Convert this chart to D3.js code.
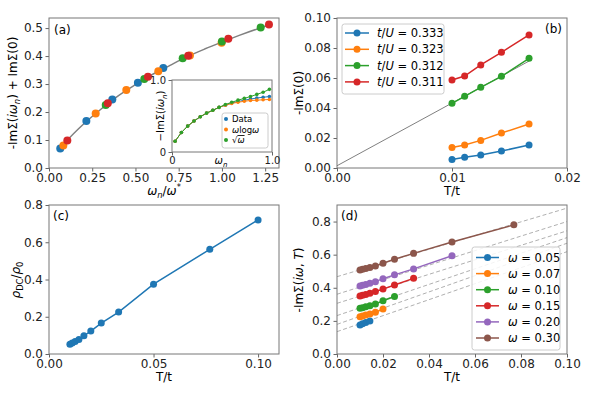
<!DOCTYPE html>
<html>
<head>
<meta charset="utf-8">
<script src="https://cdn.jsdelivr.net/npm/d3@7"></script>
<style>
  body { margin: 0; background: #fff; }
  svg { display: block; font-family: "DejaVu Sans", sans-serif; }
</style>
</head>
<body>
<svg id="fig" width="598" height="393"></svg>
<script>
// ---- data ----
const C = ['#1f77b4', '#ff7f0e', '#2ca02c', '#d62728', '#9467bd', '#8c564b'];

// (a) collapsed self energy
const aBlueX = [0.065, 0.216, 0.366, 0.514, 0.661];
const aBlueY = [0.070, 0.168, 0.245, 0.305, 0.357];
const aOrangeX = [0.083, 0.270, 0.447, 0.632, 0.815, 0.998];
const aOrangeY = [0.080, 0.195, 0.279, 0.346, 0.402, 0.448];
const aGreenX = [0.328, 0.551, 0.773, 1.000, 1.224];
const aGreenY = [0.225, 0.318, 0.392, 0.452, 0.502];
const aRedX = [0.106, 0.340, 0.572, 0.805, 1.037, 1.272];
const aRedY = [0.098, 0.231, 0.326, 0.401, 0.462, 0.513];
const aFitX = [0.06, 0.1, 0.2, 0.3, 0.4, 0.5, 0.6, 0.7, 0.8, 0.9, 1.0, 1.1, 1.2, 1.28];
const aFitY = [0.066, 0.095, 0.157, 0.210, 0.258, 0.298, 0.335, 0.367, 0.398, 0.425, 0.450, 0.474, 0.496, 0.512];
const aXTicks = [0, 0.25, 0.5, 0.75, 1.0, 1.25];
const aXLabels = ['0.00', '0.25', '0.50', '0.75', '1.00', '1.25'];
const aYTicks = [0, 0.1, 0.2, 0.3, 0.4, 0.5];
const aYLabels = ['0.0', '0.1', '0.2', '0.3', '0.4', '0.5'];

// inset of (a)
const inOmega = [0.031, 0.094, 0.157, 0.220, 0.283, 0.346, 0.408, 0.471, 0.534, 0.597, 0.660, 0.723, 0.785, 0.848, 0.911, 0.974];
const inData = [0.15, 0.27, 0.36, 0.43, 0.49, 0.54, 0.58, 0.62, 0.65, 0.68, 0.70, 0.72, 0.735, 0.75, 0.76, 0.77];
const inLog = [0.15, 0.27, 0.36, 0.43, 0.49, 0.54, 0.58, 0.62, 0.65, 0.675, 0.69, 0.705, 0.715, 0.72, 0.725, 0.73];
const inSqrt = [0.15, 0.27, 0.36, 0.43, 0.49, 0.54, 0.58, 0.62, 0.66, 0.69, 0.72, 0.745, 0.77, 0.80, 0.83, 0.87];

// (b) ImSigma(0) vs T
const bT = [0.01, 0.0111, 0.0125, 0.0143, 0.0167];
const b333 = [0.0056, 0.0071, 0.0087, 0.0113, 0.0153];
const b323 = [0.0136, 0.0153, 0.0184, 0.0233, 0.0293];
const b312 = [0.0431, 0.0478, 0.0538, 0.0611, 0.0731];
const b311 = [0.0587, 0.0613, 0.0687, 0.0771, 0.0887];
const bLabels = ['0.333', '0.323', '0.312', '0.311'];
const bFitX = [0, 0.0167];
const bFitY = [0.0015, 0.0713];
const bXTicks = [0, 0.01, 0.02];
const bXLabels = ['0.00', '0.01', '0.02'];
const bYTicks = [0, 0.02, 0.04, 0.06, 0.08, 0.10];
const bYLabels = ['0.00', '0.02', '0.04', '0.06', '0.08', '0.10'];

// (c) resistivity
const cT = [0.01, 0.0111, 0.0125, 0.0143, 0.0167, 0.02, 0.025, 0.0333, 0.05, 0.0769, 0.1];
const cRho = [0.052, 0.059, 0.067, 0.078, 0.098, 0.123, 0.166, 0.225, 0.375, 0.562, 0.720];
const cXTicks = [0, 0.05, 0.10];
const cXLabels = ['0.00', '0.05', '0.10'];
const cYTicks = [0, 0.2, 0.4, 0.6, 0.8];
const cYLabels = ['0.0', '0.2', '0.4', '0.6', '0.8'];

// (d) ImSigma(i omega, T)
const dT = [0.01, 0.0111, 0.0125, 0.0143, 0.0167, 0.02, 0.025, 0.0333, 0.05, 0.0769];
const dOmegaLabels = ['0.05', '0.07', '0.10', '0.15', '0.20', '0.30'];
const dW005 = [0.175, 0.183, 0.190, 0.200];
const dW007 = [0.225, 0.230, 0.235, 0.242, 0.252, 0.272];
const dW010 = [0.276, 0.280, 0.285, 0.292, 0.302, 0.322, 0.347];
const dW015 = [0.350, 0.355, 0.360, 0.367, 0.377, 0.392, 0.417, 0.457];
const dW020 = [0.410, 0.415, 0.420, 0.428, 0.437, 0.455, 0.478, 0.514, 0.593];
const dW030 = [0.508, 0.512, 0.517, 0.523, 0.532, 0.548, 0.572, 0.608, 0.676, 0.780];
const dFitAt0 = [0.135, 0.179, 0.232, 0.306, 0.361, 0.467];
const dFitAt01 = [0.618, 0.669, 0.703, 0.744, 0.800, 0.881];
const dXTicks = [0, 0.02, 0.04, 0.06, 0.08, 0.10];
const dXLabels = ['0.00', '0.02', '0.04', '0.06', '0.08', '0.10'];
const dYTicks = [0, 0.2, 0.4, 0.6, 0.8];
const dYLabels = ['0.0', '0.2', '0.4', '0.6', '0.8'];

// ---- drawing helpers ----
const svg = d3.select('#fig');
const FS = 12;

// segments: {t, i: italic, sub, sup}
function rich(parent, x, y, segs, size, anchor, rotate) {
    const t = parent.append('text')
        .attr('font-size', size)
        .attr('text-anchor', anchor || 'start')
        .attr('fill', '#000');
    if (rotate) {
        t.attr('transform', `translate(${x},${y}) rotate(-90)`);
    } else {
        t.attr('x', x).attr('y', y);
    }
    let shift = 0;
    segs.forEach(s => {
        const sp = t.append('tspan').text(s.t);
        if (s.i) sp.attr('font-style', 'italic');
        let target = 0;
        if (s.sub) { target = size * 0.25; sp.attr('font-size', size * 0.7); }
        if (s.sup) { target = -size * 0.4; sp.attr('font-size', size * 0.7); }
        if (target !== shift) { sp.attr('dy', target - shift); shift = target; }
        if (s.over) sp.style('text-decoration', 'overline');
    });
    return t;
}

function panel(box, xd, yd, xt, xl, yt, yl, tickSize) {
    const g = svg.append('g');
    const x = d3.scaleLinear().domain(xd).range([box.x0, box.x1]);
    const y = d3.scaleLinear().domain(yd).range([box.y1, box.y0]);
    g.append('rect').attr('x', box.x0).attr('y', box.y0)
        .attr('width', box.x1 - box.x0).attr('height', box.y1 - box.y0)
        .attr('fill', '#fff');
    const id = 'clip' + Math.round(box.x0) + '_' + Math.round(box.y0);
    svg.append('clipPath').attr('id', id).append('rect')
        .attr('x', box.x0).attr('y', box.y0)
        .attr('width', box.x1 - box.x0).attr('height', box.y1 - box.y0);
    const plot = g.append('g');
    const fs = tickSize || FS;
    const ax = g.append('g').attr('transform', `translate(0,${box.y1})`)
        .call(d3.axisBottom(x).tickValues(xt).tickFormat((d, i) => xl[i]).tickSize(3.5).tickPadding(1.5));
    const ay = g.append('g').attr('transform', `translate(${box.x0},0)`)
        .call(d3.axisLeft(y).tickValues(yt).tickFormat((d, i) => yl[i]).tickSize(3.5).tickPadding(2.5));
    [ax, ay].forEach(a => {
        a.select('.domain').remove();
        a.selectAll('text').attr('font-size', fs).attr('font-family', 'DejaVu Sans').attr('fill', '#222');
        a.selectAll('line').attr('stroke', '#666');
    });
    g.append('rect').attr('x', box.x0).attr('y', box.y0)
        .attr('width', box.x1 - box.x0).attr('height', box.y1 - box.y0)
        .attr('fill', 'none').attr('stroke', '#777').attr('stroke-width', 1);
    return { g, plot, x, y, clip: `url(#${id})` };
}

function series(p, xs, ys, color, r, lw, withLine) {
    const pts = xs.map((v, i) => [v, ys[i]]);
    if (withLine !== false) {
        p.plot.append('path').datum(pts)
            .attr('d', d3.line().x(d => p.x(d[0])).y(d => p.y(d[1])))
            .attr('fill', 'none').attr('stroke', color).attr('stroke-width', lw || 1.5);
    }
    p.plot.selectAll(null).data(pts).enter().append('circle')
        .attr('cx', d => p.x(d[0])).attr('cy', d => p.y(d[1]))
        .attr('r', r).attr('fill', color);
}

function legendBox(g, x, y, w, h) {
    g.append('rect').attr('x', x).attr('y', y).attr('width', w).attr('height', h)
        .attr('rx', 2.5).attr('fill', '#fff').attr('fill-opacity', 0.85)
        .attr('stroke', '#ccc').attr('stroke-width', 1);
}

// ---- panel (a) ----
const pa = panel({ x0: 49, x1: 279, y0: 18, y1: 168 }, [0, 1.33], [0, 0.536], aXTicks, aXLabels, aYTicks, aYLabels);
pa.plot.append('path').datum(aFitX.map((v, i) => [v, aFitY[i]]))
    .attr('d', d3.line().curve(d3.curveMonotoneX).x(d => pa.x(d[0])).y(d => pa.y(d[1])))
    .attr('fill', 'none').attr('stroke', '#808080').attr('stroke-width', 1.5);
series(pa, aBlueX, aBlueY, C[0], 4, 0, false);
series(pa, aOrangeX, aOrangeY, C[1], 4, 0, false);
series(pa, aGreenX, aGreenY, C[2], 4, 0, false);
series(pa, aRedX, aRedY, C[3], 4, 0, false);
rich(pa.g, 54, 34, [{ t: '(a)' }], FS);
rich(svg, 17, 93, [{ t: '-ImΣ(' }, { t: 'iω', i: true }, { t: 'n', i: true, sub: true }, { t: ') + ImΣ(0)' }], FS, 'middle', true);
rich(svg, 164, 195, [{ t: 'ω', i: true }, { t: 'n', i: true, sub: true }, { t: '/' }, { t: 'ω', i: true }, { t: '*', sup: true }], FS, 'middle');

// inset
const pin = panel({ x0: 172, x1: 272, y0: 80, y1: 152 }, [0, 1.0], [0, 1.0], [0, 1.0], ['0', '1.0'], [0, 1.0], ['0', '1.0'], 10);
series(pin, inOmega, inData, C[0], 1.8, 1);
series(pin, inOmega, inLog, C[1], 1.8, 1);
series(pin, inOmega, inSqrt, C[2], 1.8, 1);
rich(svg, 221, 164, [{ t: 'ω', i: true }, { t: 'n', i: true, sub: true }], 10, 'middle');
rich(svg, 164, 116, [{ t: '−ImΣ(' }, { t: 'iω', i: true }, { t: 'n', i: true, sub: true }, { t: ')' }], 10, 'middle', true);
legendBox(pin.g, 222, 113, 46, 35);
const inNames = [[{ t: 'Data' }], [{ t: 'ω', i: true }, { t: 'log' }, { t: 'ω', i: true }], [{ t: '√' }, { t: 'ω', i: true, over: true }]];
inNames.forEach((segs, i) => {
    const yy = 119 + i * 10.5;
    pin.g.append('circle').attr('cx', 226).attr('cy', yy).attr('r', 2).attr('fill', C[i]);
    rich(pin.g, 232, yy + 3, segs, 8.5);
});

// ---- panel (b) ----
const pb = panel({ x0: 337, x1: 567, y0: 18, y1: 168 }, [0, 0.02], [0, 0.10], bXTicks, bXLabels, bYTicks, bYLabels);
pb.plot.append('path').datum(bFitX.map((v, i) => [v, bFitY[i]]))
    .attr('d', d3.line().x(d => pb.x(d[0])).y(d => pb.y(d[1])))
    .attr('fill', 'none').attr('stroke', '#808080').attr('stroke-width', 1);
[b333, b323, b312, b311].forEach((ys, i) => series(pb, bT, ys, C[i], 3.5, 1.5));
rich(pb.g, 562, 33, [{ t: '(b)' }], FS, 'end');
legendBox(pb.g, 342, 24, 102, 70);
bLabels.forEach((lab, i) => {
    const yy = 33 + i * 16.3;
    pb.g.append('line').attr('x1', 345).attr('x2', 369).attr('y1', yy).attr('y2', yy)
        .attr('stroke', C[i]).attr('stroke-width', 1.5);
    pb.g.append('circle').attr('cx', 357).attr('cy', yy).attr('r', 3.5).attr('fill', C[i]);
    rich(pb.g, 377, yy + 4, [{ t: 't', i: true }, { t: '/' }, { t: 'U', i: true }, { t: ' = ' + lab }], 11.5);
});
rich(svg, 303, 93, [{ t: '-ImΣ(0)' }], FS, 'middle', true);
rich(svg, 452, 195, [{ t: 'T/t' }], FS, 'middle');

// ---- panel (c) ----
const pc = panel({ x0: 49, x1: 279, y0: 205, y1: 354 }, [0, 0.11], [0, 0.8], cXTicks, cXLabels, cYTicks, cYLabels);
series(pc, cT, cRho, C[0], 3.5, 1.5);
rich(pc.g, 53, 220, [{ t: '(c)' }], FS);
rich(svg, 20, 280, [{ t: 'ρ', i: true }, { t: 'DC', sub: true }, { t: '/' }, { t: 'ρ', i: true }, { t: '0', sub: true }], FS, 'middle', true);
rich(svg, 164, 381, [{ t: 'T/t' }], FS, 'middle');

// ---- panel (d) ----
const pd = panel({ x0: 337, x1: 567, y0: 205, y1: 354 }, [0, 0.10], [0, 0.9], dXTicks, dXLabels, dYTicks, dYLabels);
const dashes = pd.plot.append('g').attr('clip-path', pd.clip);
dFitAt0.forEach((v, i) => {
    dashes.append('line')
        .attr('x1', pd.x(0)).attr('y1', pd.y(v))
        .attr('x2', pd.x(0.1)).attr('y2', pd.y(dFitAt01[i]))
        .attr('stroke', '#b0b0b0').attr('stroke-width', 1).attr('stroke-dasharray', '4,2.5');
});
[dW005, dW007, dW010, dW015, dW020, dW030].forEach((ys, i) => series(pd, dT.slice(0, ys.length), ys, C[i], 3.5, 1.5));
rich(pd.g, 341, 220, [{ t: '(d)' }], FS);
legendBox(pd.g, 472, 247, 88, 103);
dOmegaLabels.forEach((lab, i) => {
    const yy = 257.5 + i * 16.1;
    pd.g.append('line').attr('x1', 476).attr('x2', 499).attr('y1', yy).attr('y2', yy)
        .attr('stroke', C[i]).attr('stroke-width', 1.5);
    pd.g.append('circle').attr('cx', 487.5).attr('cy', yy).attr('r', 3.5).attr('fill', C[i]);
    rich(pd.g, 508, yy + 4, [{ t: 'ω', i: true }, { t: ' = ' + lab }], 11.5);
});
rich(svg, 303, 280, [{ t: '-ImΣ(' }, { t: 'iω', i: true }, { t: ', ' }, { t: 'T', i: true }, { t: ')' }], FS, 'middle', true);
rich(svg, 452, 381, [{ t: 'T/t' }], FS, 'middle');
</script>
</body>
</html>
